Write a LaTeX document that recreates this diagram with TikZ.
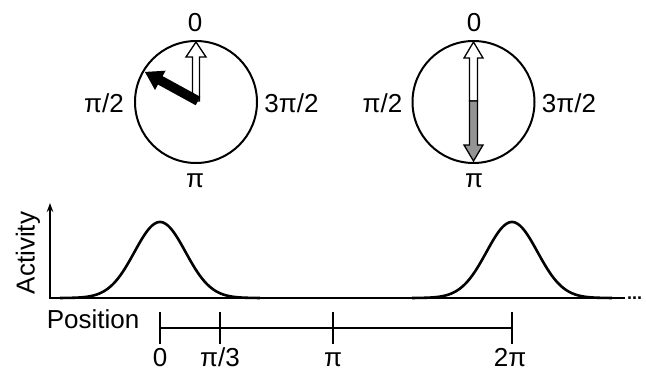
\documentclass[tikz,border=0pt]{standalone}
\usepackage{fontspec}
\setmainfont{Liberation Sans}
\usetikzlibrary{arrows.meta}
\begin{document}
\begin{tikzpicture}[x=1pt,y=-1pt,
  lbl/.style={font=\fontsize{26}{30}\selectfont, anchor=base, inner sep=0pt},
  dial/.style={circle, draw, line width=2pt, minimum size=122pt, inner sep=0pt},
  axisline/.style={line width=2.4pt},
  tickline/.style={line width=2pt},
  curve/.style={line width=2.6pt, line join=round},
  hollow/.style={fill=white, draw, line width=1.3pt, line join=miter},
  grayarr/.style={fill=gray!80!black!70, draw, line width=1.3pt}]
\useasboundingbox (0,0) rectangle (646,370);
% dials
\node[dial] (c1) at (196,102) {};
\node[dial] (c2) at (473.5,102) {};
% dial labels
\node[lbl] (l0a) at (195,31.5) {0};
\node[lbl] (l1a) at (104,112) {π/2};
\node[lbl] (l3a) at (291.5,112.5) {3π/2};
\node[lbl] (l2a) at (195,187) {π};
\node[lbl] (l0b) at (474,31.5) {0};
\node[lbl] (l1b) at (382.5,112) {π/2};
\node[lbl] (l3b) at (569,112.5) {3π/2};
\node[lbl] (l2b) at (474,187) {π};
% left dial arrows
\draw[hollow] (192.5,101) -- (192.5,57) -- (186,57) -- (196,42) -- (206,57) -- (199.5,57) -- (199.5,101) -- cycle;
\begin{scope}[shift={(198,101)}, rotate=151.3]
\fill (0,-4.8) -- (43,-4.8) -- (43,-11) -- (60.5,0) -- (43,11) -- (43,4.8) -- (0,4.8) -- cycle;
\end{scope}
% right dial double arrow
\draw[hollow] (469.5,101) -- (469.5,58) -- (464,58) -- (473.5,42) -- (483,58) -- (477.5,58) -- (477.5,101) -- cycle;
\draw[grayarr] (469.5,101) -- (477.5,101) -- (477.5,145) -- (483,145) -- (473.5,161) -- (464,145) -- (469.5,145) -- cycle;
% activity plot
\coordinate (o) at (50,298);
\coordinate (ytop) at (50,203);
\coordinate (xend) at (625,298);
\draw[curve] plot[domain=60:260, samples=120, smooth] (\x,{298-76*exp(((\x-160)^2)/(-1300))});
\draw[curve] plot[domain=412:612, samples=120, smooth] (\x,{298-76*exp(((\x-512)^2)/(-1300))});
\draw[axisline] (o) -- (xend);
\draw[line width=2pt, -{Stealth[length=9pt,width=6.5pt]}] (50,299.2) -- (ytop);
\node[font=\fontsize{18}{20}\selectfont\bfseries, anchor=base west, inner sep=0pt] (dots) at (627,299.5) {...};
\node[lbl, rotate=90, anchor=center] (act) at (28,253) {Activity};
\node[lbl] (pos) at (93,328.5) {Position};
% position scale
\coordinate (p0) at (160,328);
\coordinate (p1) at (220,328);
\coordinate (p2) at (333,328);
\coordinate (p3) at (512,328);
\draw[tickline] (p0) -- (p3);
\foreach \p in {p0,p1,p2,p3} {\draw[tickline] ([yshift=16pt]\p) -- ([yshift=-16pt]\p);}
\node[lbl] (t0) at (160,366) {0};
\node[lbl] (t1) at (220,366) {π/3};
\node[lbl] (t2) at (333,366) {π};
\node[lbl] (t3) at (510,366) {2π};
\end{tikzpicture}
\end{document}
